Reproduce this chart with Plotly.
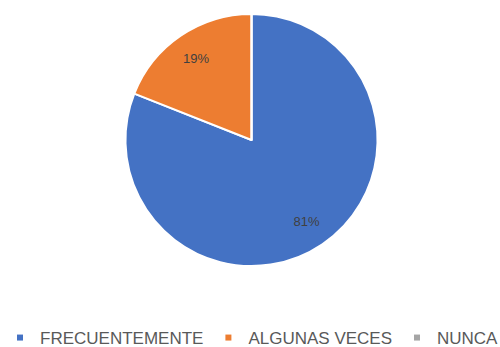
import plotly.graph_objects as go

categories = ["FRECUENTEMENTE", "ALGUNAS VECES", "NUNCA"]
values = [81, 19, 0]
colors = ["#4472C4", "#ED7D31", "#A5A5A5"]

pie_domain = dict(x=[0.006, 1], y=[0.243, 1])

fig = go.Figure()

# filled slices
fig.add_trace(
    go.Pie(
        labels=categories,
        values=values,
        sort=False,
        direction="clockwise",
        rotation=0,
        marker=dict(colors=colors, line=dict(color="white", width=2)),
        textinfo="none",
        domain=pie_domain,
        showlegend=False,
        hoverinfo="label+percent",
    )
)

# transparent ring on top, only to push the percent labels outwards
fig.add_trace(
    go.Pie(
        labels=categories,
        values=values,
        sort=False,
        direction="clockwise",
        rotation=0,
        hole=0.56,
        marker=dict(colors=["rgba(0,0,0,0)"] * 3, line=dict(width=0)),
        textinfo="percent",
        textposition=["inside", "inside", "none"],
        insidetextorientation="horizontal",
        textfont=dict(family="Liberation Sans", size=13, color="#404040"),
        domain=pie_domain,
        showlegend=False,
        hoverinfo="skip",
    )
)

# legend entries with small square markers
for name, color in zip(categories, colors):
    fig.add_trace(
        go.Scatter(
            x=[None],
            y=[None],
            mode="markers",
            name=name,
            marker=dict(symbol="square", size=6, color=color),
        )
    )

fig.update_xaxes(visible=False)
fig.update_yaxes(visible=False)

fig.update_layout(
    width=500,
    height=347,
    margin=dict(l=0, r=0, t=14, b=0, autoexpand=False),
    paper_bgcolor="white",
    plot_bgcolor="white",
    showlegend=True,
    legend=dict(
        orientation="h",
        x=0,
        xanchor="left",
        y=0.027,
        yanchor="middle",
        font=dict(family="Liberation Sans", size=17, color="#595959"),
    ),
)

fig.write_html(
    "out.html",
    config={"displayModeBar": False},
    post_script="document.body.style.margin='0';",
)
